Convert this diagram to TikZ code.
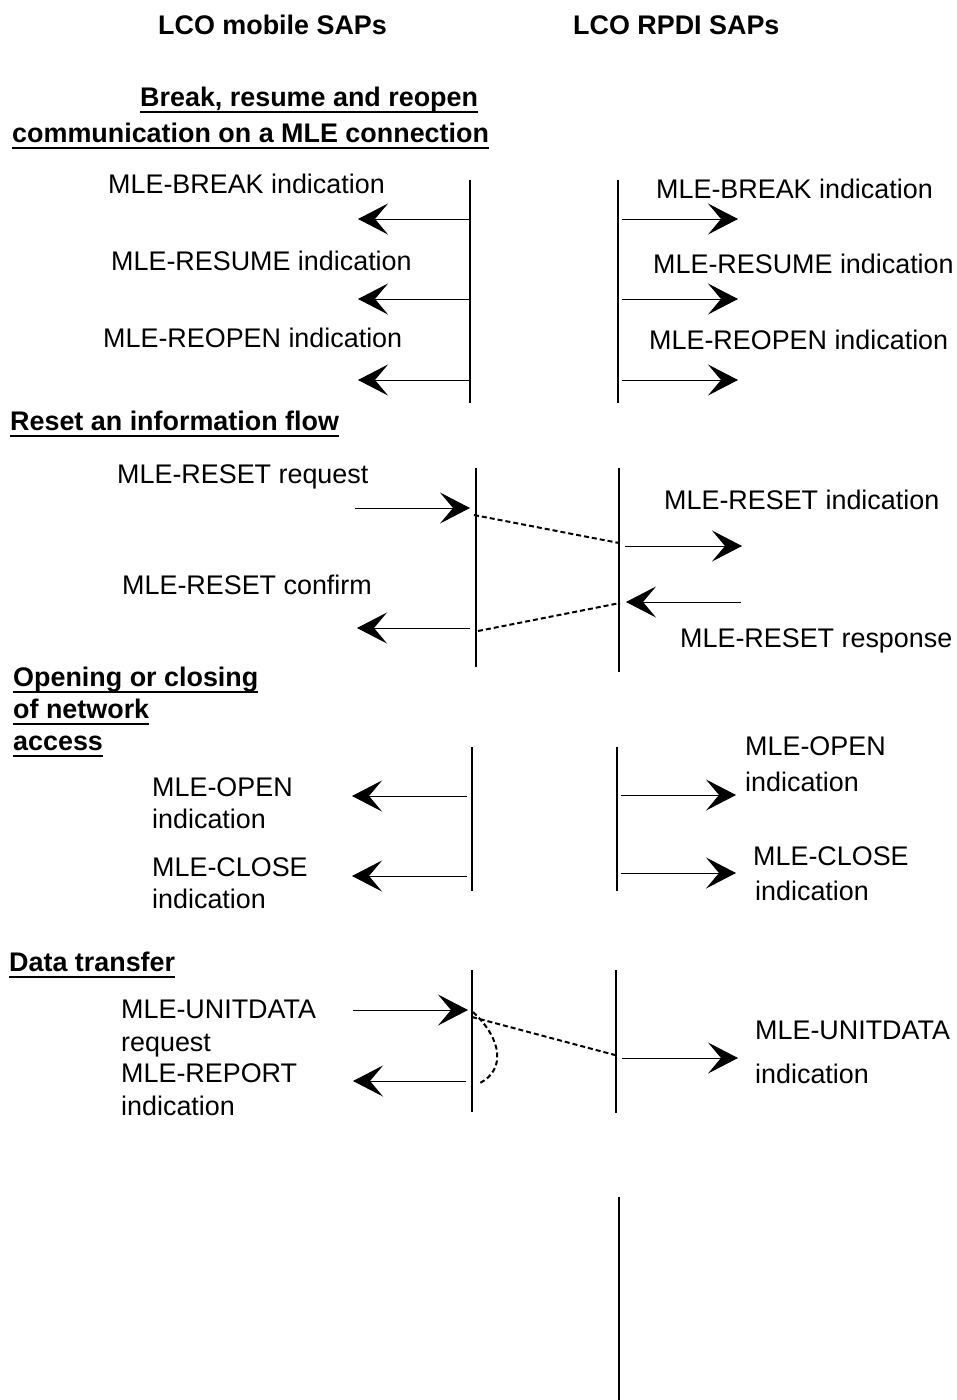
\documentclass[tikz,border=0pt]{standalone}
\usepackage{fontspec}
\setmainfont{Liberation Sans}
\usetikzlibrary{arrows.meta}
\newcommand{\hul}[1]{\setbox0\hbox{#1}\rlap{\raisebox{-6.5pt}{\rule{\wd0}{1.8pt}}}\box0}
\tikzset{
  lbl/.style={anchor=west,inner sep=0pt,text height=19pt,text depth=0pt,font=\fontsize{26.9}{32}\selectfont},
  hdg/.style={lbl,font=\fontsize{26.9}{32}\selectfont\bfseries},
  life/.style={line width=1.1pt},
  msg/.style={line width=1pt,-{Stealth[length=30pt,width=31pt,inset=13pt]}},
  flow/.style={line width=2pt,dash pattern=on 5pt off 3pt},
}
\begin{document}
\begin{tikzpicture}[x=1pt,y=-1pt]
\useasboundingbox (0,0) rectangle (957,1400);
\node[hdg] (hmob) at (158,25) {LCO mobile SAPs};
\node[hdg] (hrpdi) at (573,25) {LCO RPDI SAPs};

\node[hdg] (brka) at (140,97) {\hul{Break, resume and reopen}};
\node[hdg] (brkb) at (12,133) {\hul{communication on a MLE connection}};
\draw[life] (470,180) -- (470,403);
\draw[life] (618,180) -- (618,403);
\node[lbl] (brkl) at (108,184) {MLE-BREAK indication};
\node[lbl] (resl) at (111,261) {MLE-RESUME indication};
\node[lbl] (reol) at (103,338) {MLE-REOPEN indication};
\node[lbl] (brkr) at (656,189) {MLE-BREAK indication};
\node[lbl] (resr) at (653,264) {MLE-RESUME indication};
\node[lbl] (reor) at (649,340) {MLE-REOPEN indication};
\coordinate (mb1) at (470,219); \coordinate (mb1e) at (358,219);
\coordinate (mb2) at (470,299); \coordinate (mb2e) at (358,299);
\coordinate (mb3) at (470,380); \coordinate (mb3e) at (358,380);
\coordinate (rb1) at (622,219); \coordinate (rb1e) at (738,219);
\coordinate (rb2) at (622,299); \coordinate (rb2e) at (738,299);
\coordinate (rb3) at (622,380); \coordinate (rb3e) at (738,380);
\draw[msg] (mb1) -- (mb1e);
\draw[msg] (mb2) -- (mb2e);
\draw[msg] (mb3) -- (mb3e);
\draw[msg] (rb1) -- (rb1e);
\draw[msg] (rb2) -- (rb2e);
\draw[msg] (rb3) -- (rb3e);

\node[hdg] (rst) at (10,421) {\hul{Reset an information flow}};
\draw[life] (476,468) -- (476,667);
\draw[life] (619,468) -- (619,672);
\node[lbl] (rstreq) at (117,474) {MLE-RESET request};
\node[lbl] (rstind) at (664,500) {MLE-RESET indication};
\node[lbl] (rstcnf) at (122,585) {MLE-RESET confirm};
\node[lbl] (rstrsp) at (680,638) {MLE-RESET response};
\coordinate (mr1e) at (355,508); \coordinate (mr1) at (470,508);
\coordinate (rr1) at (625,546); \coordinate (rr1e) at (742,546);
\coordinate (rr2e) at (741,602); \coordinate (rr2) at (626,602);
\coordinate (mr2) at (470,628); \coordinate (mr2e) at (357,628);
\draw[msg] (mr1e) -- (mr1);
\draw[msg] (rr1) -- (rr1e);
\draw[msg] (rr2e) -- (rr2);
\draw[msg] (mr2) -- (mr2e);
\coordinate (fa1) at (474,515); \coordinate (fa2) at (619,543);
\coordinate (fb1) at (478,631); \coordinate (fb2) at (620,603);
\draw[flow] (fa1) -- (fa2);
\draw[flow] (fb1) -- (fb2);

\node[hdg] (opna) at (13,677) {\hul{Opening or closing}};
\node[hdg] (opnb) at (13,709) {\hul{of network}};
\node[hdg] (opnc) at (13,741) {\hul{access}};
\draw[life] (472,747) -- (472,891);
\draw[life] (617,747) -- (617,891);
\node[lbl] (opnl) at (152,787) {MLE-OPEN};
\node[lbl] (opnli) at (152,819) {indication};
\node[lbl] (clsl) at (152,867) {MLE-CLOSE};
\node[lbl] (clsli) at (152,899) {indication};
\node[lbl] (opnr) at (745,746) {MLE-OPEN};
\node[lbl] (opnri) at (745,782) {indication};
\node[lbl] (clsr) at (753,856) {MLE-CLOSE};
\node[lbl] (clsri) at (755,891) {indication};
\coordinate (mo1) at (467,796); \coordinate (mo1e) at (352,796);
\coordinate (mo2) at (467,876); \coordinate (mo2e) at (352,876);
\coordinate (ro1) at (621,795); \coordinate (ro1e) at (736,795);
\coordinate (ro2) at (621,873); \coordinate (ro2e) at (736,873);
\draw[msg] (mo1) -- (mo1e);
\draw[msg] (mo2) -- (mo2e);
\draw[msg] (ro1) -- (ro1e);
\draw[msg] (ro2) -- (ro2e);

\node[hdg] (dat) at (9,962) {\hul{Data transfer}};
\draw[life] (472,970) -- (472,1112);
\draw[life] (616,970) -- (616,1113);
\node[lbl] (udreq) at (121,1009) {MLE-UNITDATA};
\node[lbl] (udreqb) at (121,1042) {request};
\node[lbl] (rpt) at (121,1073) {MLE-REPORT};
\node[lbl] (rptb) at (121,1106) {indication};
\node[lbl] (udind) at (755,1030) {MLE-UNITDATA};
\node[lbl] (udindb) at (755,1074) {indication};
\coordinate (md1e) at (353,1010); \coordinate (md1) at (468,1010);
\coordinate (md2) at (466,1081); \coordinate (md2e) at (353,1081);
\coordinate (rd1) at (622,1058); \coordinate (rd1e) at (738,1058);
\draw[msg] (md1e) -- (md1);
\draw[msg] (md2) -- (md2e);
\draw[msg] (rd1) -- (rd1e);
\coordinate (fc1) at (472,1017); \coordinate (fc2) at (615,1055);
\coordinate (fd1) at (473,1012); \coordinate (fd2) at (480,1083);
\draw[flow] (fc1) -- (fc2);
\draw[flow] (fd1) .. controls (503,1040) and (505,1070) .. (fd2);

\draw[life] (619,1197) -- (619,1400);
\end{tikzpicture}
\end{document}
